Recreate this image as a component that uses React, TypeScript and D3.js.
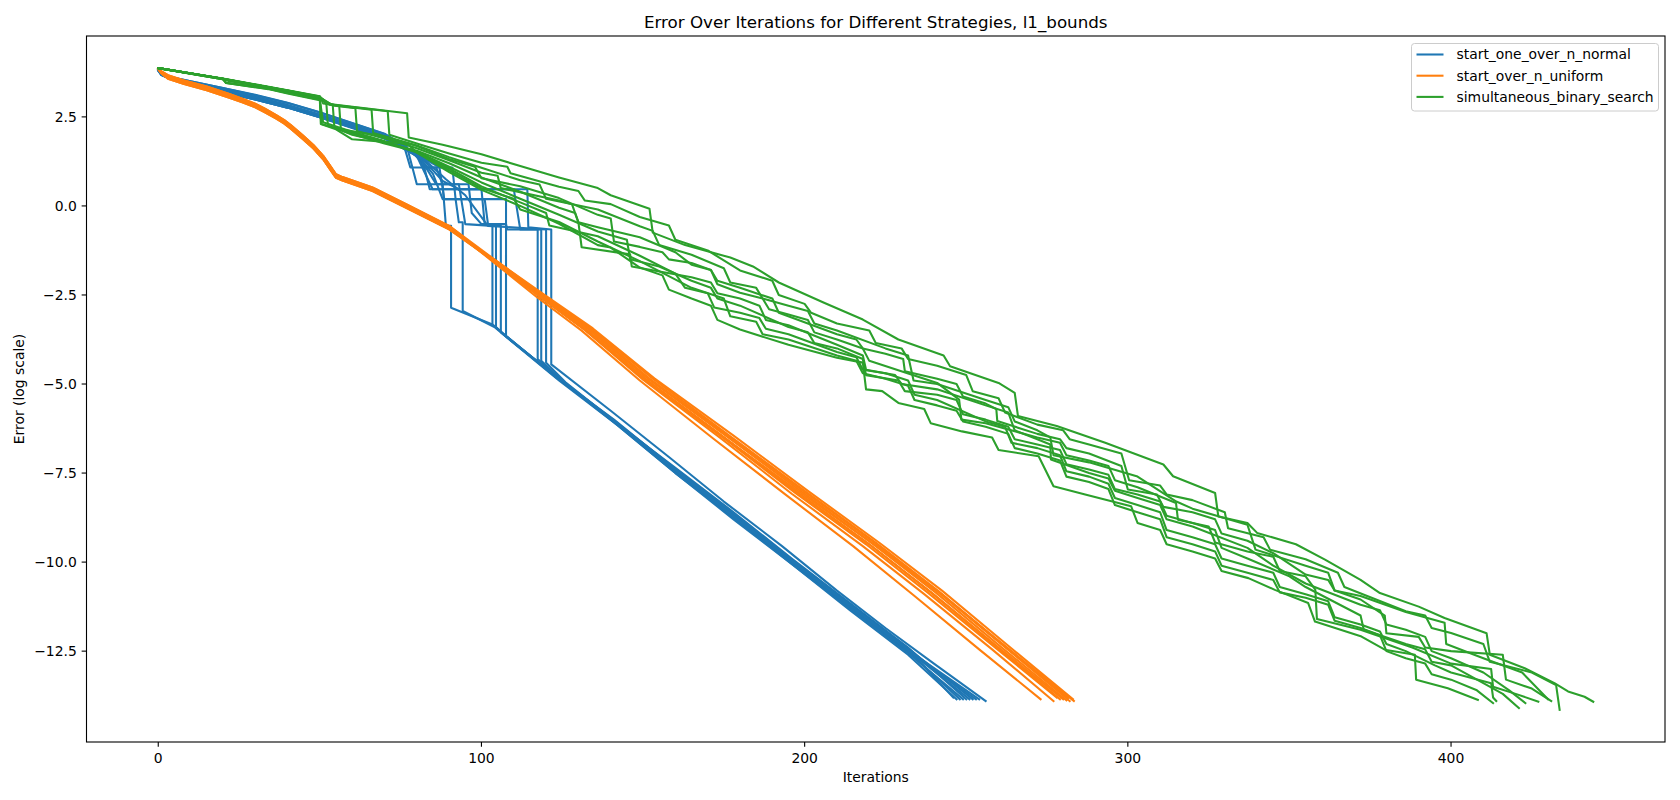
import React from 'react';
import * as d3 from 'd3';

type Pt = [number, number];

const seriesNames = ['start_one_over_n_normal', 'start_over_n_uniform', 'simultaneous_binary_search'];
const seriesColors = ['#1f77b4', '#ff7f0e', '#2ca02c'];

const xTicks = [0, 100, 200, 300, 400];
const yTicks = [2.5, 0, -2.5, -5, -7.5, -10, -12.5];

// start_one_over_n_normal runs
const blueRuns: Pt[][] = [
  [[0,3.82],[1,3.68],[3,3.62],[10,3.46],[20,3.26],[30,3.06],[40,2.83],[50,2.56],[60,2.27],[70,1.97],[76,1.66],[80,1.46],[82,1.08],[86,1.08],[88,0.6],[89,-0.56],[90.6,-0.56],[90.6,-2.86],[103.4,-3.33],[107.6,-3.65],[123,-4.8],[141,-6.0],[160,-7.4],[178,-8.65],[196,-9.95],[214,-11.2],[232,-12.45],[246,-13.8]],
  [[0,3.8],[1,3.67],[3,3.6],[10,3.41],[20,3.2],[30,2.99],[40,2.76],[50,2.49],[60,2.2],[70,1.9],[76,1.7],[78,1.08],[91,1.08],[92,0.19],[93,-0.46],[94.2,-0.46],[94.2,-2.95],[104,-3.4],[108,-3.7],[124,-4.85],[142,-6.1],[160,-7.45],[178,-8.7],[196,-10.0],[214,-11.25],[232,-12.5],[248,-13.85]],
  [[0,3.83],[1,3.7],[3,3.63],[10,3.5],[20,3.31],[30,3.12],[40,2.9],[50,2.63],[60,2.33],[70,2.03],[77,1.65],[80,0.61],[93,0.61],[95,-0.51],[103.4,-0.56],[103.4,-3.33],[107.6,-3.65],[123,-4.8],[141,-6.05],[160,-7.35],[178,-8.6],[196,-9.9],[214,-11.15],[232,-12.4],[250,-13.85]],
  [[0,3.81],[1,3.69],[3,3.61],[10,3.45],[20,3.25],[30,3.04],[40,2.81],[50,2.54],[60,2.25],[70,1.95],[78,1.55],[82,1.2],[84,0.47],[100,0.47],[101,-0.51],[104.5,-0.56],[104.5,-3.4],[108,-3.7],[124,-4.9],[142,-6.15],[160,-7.5],[178,-8.75],[196,-10.05],[214,-11.3],[232,-12.55],[249,-13.85]],
  [[0,3.82],[1,3.7],[3,3.62],[10,3.46],[20,3.26],[30,3.05],[40,2.83],[50,2.55],[60,2.26],[70,1.96],[79,1.5],[87,1.08],[88.5,0.19],[101,0.19],[102,-0.5],[106,-0.56],[106,-3.55],[124,-4.85],[142,-6.1],[161,-7.45],[179,-8.7],[197,-10.0],[215,-11.25],[233,-12.5],[252,-13.85]],
  [[0,3.8],[1,3.68],[3,3.6],[10,3.41],[20,3.19],[30,2.99],[40,2.76],[50,2.49],[60,2.19],[70,1.89],[80,1.45],[85,0.9],[88,0.19],[107.6,0.19],[107.6,-3.65],[123,-4.8],[141,-6.05],[160,-7.42],[178,-8.7],[196,-9.98],[214,-11.2],[232,-12.48],[251,-13.85]],
  [[0,3.83],[1,3.71],[3,3.63],[10,3.5],[20,3.31],[30,3.11],[40,2.89],[50,2.62],[60,2.32],[70,2.02],[80,1.4],[84.9,0.47],[114.2,0.47],[114.5,-0.6],[121.6,-0.66],[121.6,-4.45],[140,-5.75],[158,-7.05],[175,-8.3],[193,-9.55],[210,-10.8],[225,-11.85],[240,-12.85],[256,-13.9]],
  [[0,3.81],[1,3.69],[3,3.61],[10,3.45],[20,3.25],[30,3.04],[40,2.81],[50,2.54],[60,2.24],[70,1.94],[81,1.35],[86,0.61],[96,0.61],[97,-0.2],[100,-0.51],[107.6,-0.51],[108,-0.66],[117.4,-0.66],[117.4,-4.3],[124,-4.85],[142,-6.15],[160,-7.5],[178,-8.8],[196,-10.05],[214,-11.35],[232,-12.6],[247,-13.85]],
  [[0,3.82],[1,3.7],[3,3.62],[10,3.46],[20,3.26],[30,3.06],[40,2.82],[50,2.56],[60,2.26],[70,1.96],[82,1.3],[88,0.7],[93,0.47],[110,0.47],[112,-0.66],[118.5,-0.66],[118.5,-4.35],[125,-4.9],[143,-6.2],[161,-7.5],[179,-8.8],[197,-10.05],[215,-11.3],[233,-12.55],[253,-13.85]],
  [[0,3.8],[1,3.68],[3,3.6],[10,3.41],[20,3.2],[30,2.99],[40,2.76],[50,2.49],[60,2.2],[70,1.9],[83,1.25],[89,0.75],[95,0.3],[102,-0.56],[120,-0.66],[120,-4.4],[126,-4.95],[144,-6.25],[162,-7.55],[180,-8.85],[198,-10.1],[216,-11.35],[234,-12.6],[254,-13.85]],
];

// start_over_n_uniform: early part (five slightly different variants)
const orangeHeads: Pt[][] = [
  [[0,3.86],[1,3.77],[3,3.65],[8,3.5],[15,3.33],[22,3.12],[26,2.99],[30,2.85],[33,2.71],[36.5,2.53],[39,2.39],[41,2.25],[44.7,1.96],[48,1.69],[51,1.39],[53,1.13],[55,0.87],[57,0.79],[66.3,0.5],[76.7,0.03],[90,-0.58]],
  [[0,3.84],[1,3.73],[3,3.59],[8,3.44],[15,3.27],[22,3.06],[26,2.93],[30,2.79],[33,2.65],[36.5,2.47],[39,2.33],[41,2.19],[44.7,1.9],[48,1.63],[51,1.33],[53,1.07],[55,0.81],[57,0.73],[66.3,0.44],[76.7,-0.03],[90,-0.64]],
  [[0,3.86],[1,3.78],[3,3.67],[8,3.52],[15,3.35],[22,3.14],[26,3.01],[30,2.87],[33,2.73],[36.5,2.55],[39,2.41],[41,2.27],[44.7,1.98],[48,1.71],[51,1.41],[53,1.15],[55,0.89],[57,0.81],[66.3,0.52],[76.7,0.05],[90,-0.56]],
  [[0,3.84],[1,3.72],[3,3.57],[8,3.42],[15,3.25],[22,3.04],[26,2.91],[30,2.77],[33,2.63],[36.5,2.45],[39,2.31],[41,2.17],[44.7,1.88],[48,1.61],[51,1.31],[53,1.05],[55,0.79],[57,0.71],[66.3,0.42],[76.7,-0.05],[90,-0.66]],
  [[0,3.85],[1,3.75],[3,3.62],[8,3.47],[15,3.3],[22,3.09],[26,2.96],[30,2.82],[33,2.68],[36.5,2.5],[39,2.36],[41,2.22],[44.7,1.93],[48,1.66],[51,1.36],[53,1.1],[55,0.84],[57,0.76],[66.3,0.47],[76.7,0.0],[90,-0.61]],
];

// start_over_n_uniform: later part of each run
const orangeTails: Pt[][] = [
  [[104,-1.6],[117,-2.55],[131,-3.5],[149,-4.9],[172,-6.55],[194,-8.1],[215,-9.55],[234,-10.95],[254,-12.45],[273,-13.85]],
  [[104.5,-1.59],[118,-2.53],[132,-3.48],[150,-4.88],[174,-6.52],[196,-8.08],[218,-9.55],[237,-10.9],[258,-12.45],[277,-13.9]],
  [[104.5,-1.6],[118,-2.55],[132.3,-3.5],[151,-4.9],[175,-6.52],[197,-8.05],[219,-9.5],[238,-10.85],[259,-12.4],[278,-13.8]],
  [[104.5,-1.59],[118,-2.53],[132.3,-3.47],[150.8,-4.87],[175,-6.5],[198,-8.06],[220,-9.5],[239.4,-10.87],[259,-12.35],[279,-13.85]],
  [[104.5,-1.59],[118,-2.53],[132.3,-3.47],[150.8,-4.87],[175,-6.5],[198,-8.06],[220,-9.5],[239.4,-10.87],[260,-12.4],[280,-13.85]],
  [[104.5,-1.58],[118.5,-2.52],[133,-3.46],[151.5,-4.85],[176,-6.48],[199,-8.02],[221,-9.48],[240.5,-10.85],[261,-12.4],[281,-13.88]],
  [[105,-1.58],[119,-2.52],[133.5,-3.45],[152,-4.85],[176.5,-6.47],[199.5,-8.0],[221.5,-9.45],[241,-10.82],[261.5,-12.35],[281.5,-13.82]],
  [[105,-1.57],[119,-2.5],[134,-3.45],[153,-4.85],[177,-6.47],[200,-8.0],[222,-9.45],[241.5,-10.82],[262,-12.38],[282,-13.9]],
  [[105,-1.57],[119.5,-2.5],[134.5,-3.44],[153.5,-4.84],[178,-6.45],[201,-8.0],[223,-9.45],[242.5,-10.8],[263,-12.35],[283,-13.85]],
  [[104.5,-1.6],[118,-2.54],[132.5,-3.5],[152,-4.95],[178,-6.7],[201,-8.2],[223,-9.6],[243,-10.95],[264,-12.5],[283.3,-13.9]],
];

// simultaneous_binary_search runs
const greenRuns: Pt[][] = [
  [[0,3.87],[20,3.58],[40,3.25],[50,3.08],[51,2.88],[64,2.74],[77,2.6],[77.5,1.92],[88,1.72],[100,1.45],[112,1.12],[124,0.8],[136,0.5],[140,0.3],[152,-0.08],[153,-0.75],[163,-1.1],[177,-1.45],[184,-1.7],[192,-2.15],[206,-2.72],[218,-3.19],[229,-3.75],[243,-4.2],[245,-4.5],[260,-4.97],[265,-5.25],[266,-5.9],[278,-6.18],[293,-6.65],[311,-7.26],[314,-7.59],[327,-8.06],[328,-8.72],[337,-8.9],[340,-9.18],[352,-9.5],[361,-9.93],[372,-10.5],[378,-10.87],[390,-11.25],[398,-11.57],[411,-12.0],[412,-12.6],[422.8,-12.98],[432,-13.4],[436.2,-13.63],[441.3,-13.78],[444,-13.92]],
  [[0,3.87],[20,3.57],[40,3.24],[50,3.07],[52,2.86],[71,2.66],[71.5,2.0],[80,1.75],[90,1.47],[100,1.21],[108,1.1],[109,0.92],[124,0.54],[130,0.42],[132,0.15],[140,0.05],[149,-0.31],[158,-0.55],[160,-0.95],[170,-1.25],[180,-1.81],[190,-2.1],[192,-2.5],[200,-2.75],[202,-3.0],[210,-3.3],[220,-3.5],[222,-3.85],[230,-4.0],[232,-4.3],[241,-4.49],[250,-4.75],[252,-5.2],[260,-5.4],[262,-5.8],[272,-6.14],[280,-6.3],[282,-6.55],[288,-6.7],[298,-6.95],[300.4,-7.7],[310,-7.85],[312,-8.1],[320,-8.26],[330,-8.6],[331,-9.05],[342,-9.3],[344,-9.65],[355,-9.92],[365,-10.3],[367,-10.7],[386,-11.38],[392,-11.5],[394,-11.85],[400,-11.99],[410,-12.3],[412,-12.8],[425,-13.1],[432.5,-13.45],[433.6,-14.15]],
  [[0,3.87],[20,3.57],[40,3.23],[50,3.06],[53,2.84],[66,2.7],[66.5,2.05],[80,1.7],[90,1.37],[100,1.07],[112,0.72],[118,0.6],[120,0.2],[136,-0.1],[149,-0.57],[153,-0.7],[155,-1.1],[165,-1.37],[175,-1.75],[177,-2.15],[185,-2.3],[187,-2.6],[195,-2.8],[201,-2.95],[203,-3.3],[210,-3.5],[225,-4.0],[232,-4.2],[233.7,-4.9],[241,-5.0],[256,-5.45],[263,-5.65],[265,-6.05],[272,-6.3],[276,-6.5],[277,-7.0],[288,-7.2],[303,-7.6],[315,-8.3],[320,-8.5],[337,-8.95],[339.5,-9.65],[355,-10.1],[362,-10.3],[364,-10.8],[372,-11.05],[379.5,-11.5],[380,-12.0],[390,-12.1],[392,-12.4],[400,-12.5],[416,-12.6],[417,-13.3],[425,-13.55],[431,-13.9]],
  [[0,3.87],[20,3.57],[40,3.23],[50,3.05],[54,2.82],[61,2.74],[61.5,2.1],[70,1.9],[80,1.62],[90,1.28],[100,0.93],[105,0.85],[106,0.5],[124,0.15],[128,0.05],[130,-0.46],[136,-0.6],[149,-0.88],[160,-1.3],[165,-1.65],[171,-1.8],[173,-2.2],[180,-2.44],[187,-2.6],[189,-2.9],[195,-3.05],[201,-3.2],[203,-3.55],[210,-3.75],[218,-4.0],[220,-4.35],[241,-4.97],[247.8,-5.44],[248.5,-6.0],[256,-6.1],[272,-6.5],[279,-6.65],[281,-7.0],[288,-7.15],[294,-7.3],[296,-7.7],[303,-7.9],[314.9,-8.34],[315.5,-8.81],[325,-9.0],[327,-9.45],[337,-9.7],[345,-9.85],[347,-10.25],[355,-10.4],[358,-10.77],[358.5,-11.6],[372,-11.9],[388,-12.4],[400,-12.85],[412.4,-13.0],[413,-13.5],[420,-13.7],[427,-13.92]],
  [[0,3.87],[20,3.57],[22,3.5],[34,3.34],[40,3.22],[50,3.04],[54,2.82],[54.5,2.2],[60,2.0],[70,1.78],[80,1.55],[90,1.2],[100,0.8],[112,0.4],[124,-0.05],[129,-0.2],[130,-0.46],[131,-1.16],[146,-1.36],[146.5,-1.7],[165,-2.0],[171,-2.15],[173,-2.45],[180,-2.6],[186,-2.8],[188,-3.2],[195,-3.35],[210,-3.9],[218,-4.2],[219,-4.6],[228,-4.75],[230,-5.0],[241,-5.15],[256,-5.6],[263,-5.8],[265,-6.3],[272,-6.55],[276,-6.7],[276.2,-7.12],[288,-7.5],[294,-7.65],[296,-8.0],[303,-8.2],[310,-8.4],[312,-8.8],[320,-9.0],[337,-9.6],[345,-10.1],[355,-10.6],[372,-11.2],[378,-11.35],[380,-11.75],[386,-11.9],[392,-12.1],[394,-12.5],[400,-12.7],[410,-13.1],[418,-13.6],[423,-13.96]],
  [[0,3.87],[20,3.56],[40,3.22],[50,3.04],[52,2.9],[52.5,2.25],[60,2.02],[70,1.75],[80,1.52],[90,1.1],[100,0.66],[112,0.2],[124,-0.25],[136,-0.72],[145,-0.95],[146,-1.5],[155,-1.7],[165,-2.1],[171,-2.3],[173,-2.6],[180,-2.8],[195,-3.4],[201,-3.55],[203,-3.85],[210,-4.0],[218,-4.3],[219,-4.75],[229,-4.9],[231,-5.2],[241,-5.3],[247,-5.45],[249,-5.85],[256,-6.0],[263,-6.2],[265,-6.55],[272,-6.7],[279,-6.85],[281,-7.25],[288,-7.4],[294,-7.55],[296,-7.95],[303,-8.1],[310,-8.3],[312,-8.7],[320,-8.9],[327,-9.1],[329,-9.6],[337,-9.9],[350,-10.4],[355,-10.7],[372,-11.5],[373,-11.9],[386,-12.3],[392,-12.45],[394,-12.8],[400,-12.9],[410,-13.4],[416,-13.7],[421,-14.1]],
  [[0,3.87],[20,3.57],[21,3.46],[34,3.3],[40,3.18],[50,3.0],[50.5,2.3],[60,2.05],[70,1.8],[80,1.52],[90,1.05],[100,0.55],[112,0.1],[120,-0.2],[121,-0.55],[136,-0.85],[149,-1.4],[160,-1.9],[163,-2.3],[170,-2.45],[172,-2.85],[180,-3.0],[186,-3.15],[188,-3.45],[195,-3.6],[210,-4.1],[216,-4.25],[218,-4.6],[225,-4.7],[232,-4.9],[234,-5.3],[241,-5.45],[256,-6.05],[262,-6.2],[264,-6.65],[272,-6.8],[279,-7.0],[281,-7.45],[288,-7.6],[294,-7.8],[296,-8.2],[303,-8.4],[310,-8.6],[312,-9.1],[320,-9.3],[327,-9.5],[329,-9.9],[337,-10.1],[345,-10.3],[347,-10.7],[355,-10.9],[362,-11.1],[364,-11.55],[372,-11.75],[378,-11.95],[380,-12.3],[386,-12.5],[395,-12.9],[400,-13.1],[412.4,-13.4],[413,-13.8],[414,-13.9]],
  [[0,3.87],[20,3.56],[21,3.45],[34,3.29],[40,3.17],[50,2.98],[51,2.35],[60,2.08],[70,1.82],[80,1.5],[90,1.0],[100,0.5],[110,0.2],[112,-0.1],[124,-0.45],[136,-1.0],[149,-1.55],[165,-2.3],[175,-2.6],[177,-3.1],[185,-3.25],[187,-3.6],[195,-3.75],[210,-4.2],[216,-4.35],[218,-4.7],[225,-4.85],[232,-5.05],[234,-5.45],[241,-5.6],[247,-5.75],[249,-6.05],[256,-6.2],[263,-6.4],[265,-6.8],[272,-6.95],[279,-7.15],[281,-7.6],[288,-7.75],[294,-7.95],[296,-8.4],[303,-8.6],[310,-8.8],[312,-9.3],[320,-9.5],[327,-9.7],[329,-10.1],[337,-10.3],[345,-10.5],[347,-10.85],[355,-11.0],[362,-11.2],[364,-11.65],[372,-11.85],[378,-12.05],[380,-12.5],[386,-12.7],[392,-12.85],[394,-13.15],[400,-13.3],[408,-13.6],[413,-13.96]],
  [[0,3.87],[20,3.57],[40,3.24],[50,3.06],[52,2.9],[56,2.8],[56.5,2.15],[70,1.95],[80,1.68],[90,1.32],[98,1.1],[100,0.78],[112,0.55],[124,0.22],[136,-0.25],[140,-0.35],[141,-1.0],[149,-1.15],[156,-1.3],[158,-1.5],[165,-1.6],[171,-1.8],[173,-2.1],[180,-2.3],[190,-2.6],[192,-3.0],[210,-3.6],[216,-3.75],[218,-4.0],[225,-4.15],[230.5,-4.3],[231,-4.64],[241,-4.85],[247,-5.0],[249,-5.35],[256,-5.55],[259.3,-5.7],[259.6,-6.04],[272,-6.4],[279,-6.55],[281,-6.8],[288,-6.95],[298,-7.3],[300,-7.96],[309,-8.1],[311,-8.45],[320,-8.6],[327,-8.8],[329,-9.2],[337,-9.4],[345,-9.75],[355,-10.35],[362,-10.5],[364,-10.8],[372,-10.95],[386,-11.4],[398,-11.7],[398.5,-12.3],[410,-12.7],[422,-13.1],[430,-13.85]],
  [[0,3.87],[20,3.56],[21,3.45],[34,3.28],[40,3.16],[50,2.97],[50.3,2.3],[55,2.15],[60,1.87],[77,1.75],[80,1.5],[90,0.95],[100,0.45],[112,0.0],[124,-0.5],[136,-1.1],[140,-1.17],[149,-1.73],[156,-1.95],[158,-2.35],[165,-2.6],[171,-2.8],[173,-3.2],[180,-3.47],[195,-3.9],[210,-4.26],[218,-4.4],[219,-5.15],[224,-5.2],[229,-5.53],[237,-5.7],[239,-6.1],[248.7,-6.33],[258,-6.5],[260,-6.85],[272.4,-7.03],[277,-7.87],[286.8,-8.1],[301,-8.43],[303,-8.9],[310,-9.1],[312,-9.5],[320,-9.7],[327,-9.9],[329,-10.25],[337.3,-10.45],[345.5,-10.78],[355.8,-11.15],[357.9,-11.67],[372.3,-12.09],[379.5,-12.46],[388.8,-12.6],[389.2,-13.3],[399,-13.54],[408.3,-13.87]],
];

const orangeRuns: Pt[][] = orangeTails.map((tail, i) => [...orangeHeads[i % orangeHeads.length], ...tail]);
const allGroups: Pt[][][] = [blueRuns, orangeRuns, greenRuns];

const W = 1680;
const H = 800;
const margin = { top: 36, right: 15, bottom: 58, left: 86.5 };
const FONT = 'DejaVu Sans, sans-serif';

const fmtY = (v: number) => {
  const s = v.toFixed(1);
  return s.startsWith('-') ? '\u2212' + s.slice(1) : s;
};

export default function App() {
  const allPts = allGroups.flat(2);
  const [x0, x1] = d3.extent(allPts, d => d[0]) as [number, number];
  const [y0, y1] = d3.extent(allPts, d => d[1]) as [number, number];
  const xPad = (x1 - x0) * 0.05;
  const yPad = (y1 - y0) * 0.05;

  const xScale = d3.scaleLinear()
    .domain([x0 - xPad, x1 + xPad])
    .range([margin.left, W - margin.right]);
  const yScale = d3.scaleLinear()
    .domain([y0 - yPad, y1 + yPad])
    .range([H - margin.bottom, margin.top]);

  const line = d3.line<Pt>()
    .x(d => xScale(d[0]))
    .y(d => yScale(d[1]));

  const left = margin.left;
  const right = W - margin.right;
  const top = margin.top;
  const bottom = H - margin.bottom;
  const tickLen = 4.86;

  return (
    <svg width={W} height={H} style={{ position: 'absolute', left: 0, top: 0, display: 'block', background: '#fff' }}>
      <rect x={0} y={0} width={W} height={H} fill="#fff" />
      <defs>
        <clipPath id="plot-area">
          <rect x={left} y={top} width={right - left} height={bottom - top} />
        </clipPath>
      </defs>

      <g clipPath="url(#plot-area)">
        {allGroups.map((runs, gi) => (
          <g key={gi}>
            {runs.map((run, ri) => (
              <path
                key={ri}
                d={line(run) || ''}
                fill="none"
                stroke={seriesColors[gi]}
                strokeWidth={2.08}
                strokeLinejoin="round"
                strokeLinecap="square"
              />
            ))}
          </g>
        ))}
      </g>

      {/* frame */}
      <rect x={left} y={top} width={right - left} height={bottom - top} fill="none" stroke="#000" strokeWidth={1.1} />

      {/* x axis */}
      {xTicks.map(t => (
        <g key={t}>
          <line x1={xScale(t)} x2={xScale(t)} y1={bottom} y2={bottom + tickLen} stroke="#000" strokeWidth={1.1} />
          <text x={xScale(t)} y={bottom + 20.5} textAnchor="middle" fontFamily={FONT} fontSize={13.9} fill="#000">{t}</text>
        </g>
      ))}
      <text x={(left + right) / 2} y={782} textAnchor="middle" fontFamily={FONT} fontSize={13.9} fill="#000">Iterations</text>

      {/* y axis */}
      {yTicks.map(t => (
        <g key={t}>
          <line x1={left - tickLen} x2={left} y1={yScale(t)} y2={yScale(t)} stroke="#000" strokeWidth={1.1} />
          <text x={left - 9.7} y={yScale(t)} dy="0.35em" textAnchor="end" fontFamily={FONT} fontSize={13.9} fill="#000">{fmtY(t)}</text>
        </g>
      ))}
      <text
        transform={`translate(24,${(top + bottom) / 2}) rotate(-90)`}
        textAnchor="middle"
        fontFamily={FONT}
        fontSize={13.9}
        fill="#000"
      >Error (log scale)</text>

      {/* title */}
      <text x={(left + right) / 2} y={27.7} textAnchor="middle" fontFamily={FONT} fontSize={16.7} fill="#000">
        Error Over Iterations for Different Strategies, l1_bounds
      </text>

      {/* legend */}
      <g>
        <rect x={1411.5} y={43.5} width={247} height={67.5} rx={3} ry={3} fill="#fff" fillOpacity={0.8} stroke="#cccccc" strokeWidth={1} />
        {seriesNames.map((name, i) => (
          <g key={name}>
            <line x1={1416.5} x2={1443.5} y1={54.5 + i * 21.2} y2={54.5 + i * 21.2} stroke={seriesColors[i]} strokeWidth={2.08} />
            <text x={1456.5} y={54.5 + i * 21.2} dy="0.35em" fontFamily={FONT} fontSize={13.9} fill="#000">{name}</text>
          </g>
        ))}
      </g>
    </svg>
  );
}
